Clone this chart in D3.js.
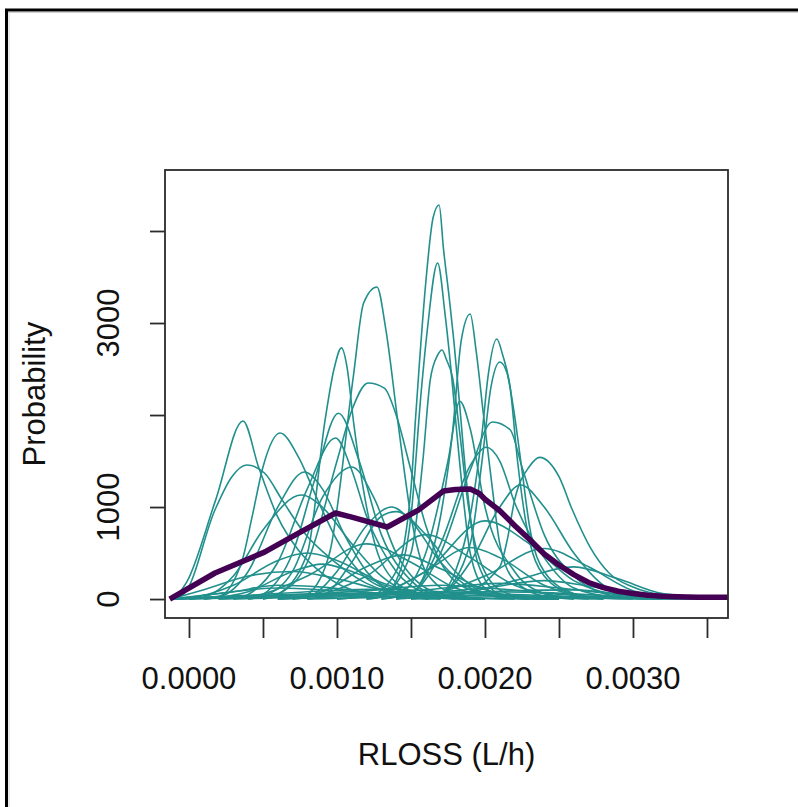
<!DOCTYPE html>
<html lang="en">
<head>
<meta charset="UTF-8">
<title>RLOSS densities</title>
<script src="https://d3js.org/d3.v7.min.js"></script>
<style>
  html, body { margin: 0; padding: 0; background: #fff; }
  svg { display: block; font-family: "Liberation Sans", Arial, sans-serif; }
  .tick line { stroke: #2b2b2b; stroke-width: 1.8; }
</style>
</head>
<body>
<div id="chart"></div>
<script>
// axis ticks (R skips labels that would overlap)
const xTicks = [0, 0.0005, 0.001, 0.0015, 0.002, 0.0025, 0.003, 0.0035];
const xLabelTicks = [0, 0.001, 0.002, 0.003];
const yTicks = [0, 1000, 2000, 3000, 4000];
const yLabelTicks = [0, 1000, 3000];

// individual density curves, [RLOSS, probability density]
const curveLeftSharp = [[-0.0001,0],[-0.00001,200],[0.00018,1075],[0.000365,1935],[0.00047,1435],[0.0006,890],[0.00074,530],[0.0009,280],[0.0011,100],[0.0014,20],[0.0017,0]];
const curveLeftBroad = [[-0.00012,0],[-0.00003,65],[0.000176,970],[0.00029,1330],[0.00039,1457],[0.00051,1370],[0.00063,1075],[0.00078,717],[0.00097,424],[0.0012,170],[0.0015,40],[0.0019,0]];
const curve0006 = [[-0.00012,0],[0.0002,30],[0.00036,424],[0.000426,890],[0.0005,1435],[0.000615,1804],[0.00074,1543],[0.00087,1075],[0.001,640],[0.00115,300],[0.0014,80],[0.0017,10],[0.002,0]];
const curve0010a = [[0.0005,0],[0.0006,50],[0.0008,500],[0.00092,1950],[0.00098,2500],[0.00103,2730],[0.00107,2500],[0.00111,1950],[0.0012,1000],[0.0013,400],[0.0015,80],[0.0017,10],[0.0019,0]];
const curve0013a = [[0.0007,0],[0.0008,50],[0.00095,500],[0.00111,2413],[0.00118,3217],[0.00127,3391],[0.00133,2930],[0.00141,1945],[0.0015,900],[0.0016,300],[0.0018,50],[0.002,0]];
const curve0013b = [[0.0005,0],[0.0006,50],[0.0008,400],[0.001,1500],[0.0011,2050],[0.00121,2348],[0.00132,2293],[0.0014,2000],[0.0015,1400],[0.0016,800],[0.0017,400],[0.0019,100],[0.0022,10],[0.0025,0]];
const curve0017a = [[0.0012,0],[0.0014,300],[0.0015,1200],[0.00153,1945],[0.00156,2630],[0.0016,3440],[0.00165,4150],[0.00169,4283],[0.00172,3800],[0.00176,3250],[0.00179,2800],[0.00182,2270],[0.00188,1200],[0.00195,400],[0.0021,50],[0.0023,0]];
const curve0017b = [[0.0012,0],[0.0013,20],[0.0014,200],[0.0015,900],[0.00157,2270],[0.00161,2920],[0.00168,3652],[0.00173,3100],[0.00177,2500],[0.00181,1800],[0.00186,1000],[0.0019,500],[0.002,120],[0.0022,10],[0.0024,0]];
const curve0017c = [[0.0012,0],[0.0013,30],[0.0015,500],[0.00158,1500],[0.00163,2380],[0.00168,2650],[0.00171,2706],[0.00174,2600],[0.00178,2413],[0.00183,1800],[0.00188,1100],[0.00195,500],[0.0021,100],[0.0023,10],[0.0025,0]];
const curve0019 = [[0.0014,0],[0.0015,50],[0.0016,300],[0.0017,900],[0.00178,1800],[0.00184,2815],[0.0019,3098],[0.00194,2700],[0.00199,2000],[0.00205,1200],[0.0021,600],[0.0022,200],[0.0024,30],[0.0026,0]];
const curve0021a = [[0.0016,0],[0.0017,50],[0.0018,300],[0.0019,900],[0.00198,1800],[0.00202,2413],[0.00208,2826],[0.00212,2650],[0.00217,2300],[0.00222,1500],[0.00228,800],[0.0024,250],[0.0026,50],[0.0028,0]];
const curve0021b = [[0.0016,0],[0.0017,50],[0.0019,600],[0.00198,1500],[0.00204,2300],[0.0021,2576],[0.00215,2450],[0.00219,2100],[0.00225,1400],[0.0023,800],[0.0024,300],[0.0026,60],[0.0028,0]];
const curve0024 = [[0.0016,0],[0.0018,30],[0.0021,350],[0.00215,640],[0.0022,1075],[0.0023,1440],[0.00237,1540],[0.0025,1330],[0.00259,970],[0.00271,565],[0.00284,280],[0.003,130],[0.0032,40],[0.0034,10],[0.0036,0]];
const curve0020a = [[0.0014,0],[0.0015,50],[0.0017,500],[0.0019,1400],[0.00205,1925],[0.00217,1840],[0.00225,1435],[0.0024,700],[0.0026,250],[0.0028,60],[0.003,10],[0.0032,0]];
const curve0020b = [[0.0013,0],[0.0015,60],[0.0017,600],[0.0019,1450],[0.00201,1650],[0.0021,1500],[0.0022,1050],[0.0024,450],[0.0026,120],[0.0029,15],[0.0031,0]];
const curve0022 = [[0.0015,0],[0.0017,50],[0.0019,400],[0.0021,1000],[0.00224,1240],[0.0024,1000],[0.0026,500],[0.0028,150],[0.003,30],[0.0032,0]];
const curve0018 = [[0.0013,0],[0.0014,30],[0.0016,500],[0.00175,1500],[0.00183,2150],[0.0019,1850],[0.002,1000],[0.0022,300],[0.0024,60],[0.0026,0]];
const curve0010b = [[0.0004,0],[0.0005,50],[0.0007,500],[0.00085,1300],[0.00101,2020],[0.00115,1500],[0.0013,700],[0.0015,200],[0.0017,30],[0.0019,0]];
const curve0010c = [[0.0003,0],[0.0004,50],[0.0006,400],[0.0008,1200],[0.00099,1750],[0.0011,1400],[0.0012,900],[0.0014,300],[0.0016,60],[0.0018,0]];
const curve0011 = [[0.0004,0],[0.0005,30],[0.0007,300],[0.0009,1100],[0.0011,1435],[0.00125,1100],[0.0014,500],[0.0016,120],[0.0018,20],[0.002,0]];
const curve0008a = [[0.0001,0],[0.0002,20],[0.0004,300],[0.0006,1000],[0.00078,1380],[0.0009,1200],[0.00105,700],[0.0012,300],[0.0014,60],[0.0016,0]];
const curve0008b = [[0,0],[0.0001,20],[0.0003,250],[0.0005,750],[0.00076,1130],[0.0009,1000],[0.0011,600],[0.0013,250],[0.0015,60],[0.0017,0]];
const curve0014a = [[0.0007,0],[0.0008,20],[0.001,300],[0.0012,800],[0.00137,1000],[0.0015,850],[0.0017,400],[0.0019,120],[0.0021,20],[0.0023,0]];
const curve0014b = [[0.0008,0],[0.0009,30],[0.0011,400],[0.0013,900],[0.0014,950],[0.0016,700],[0.0018,300],[0.002,60],[0.0022,0]];
const curveMid1 = [[-0.00012,0],[0,10],[0.0003,150],[0.0006,420],[0.0008,500],[0.001,420],[0.0013,180],[0.0016,40],[0.002,0]];
const curveMid2 = [[0.0002,0],[0.0004,20],[0.0008,250],[0.0012,600],[0.0015,400],[0.0018,120],[0.0021,20],[0.0023,0]];
const curveMid3 = [[0.0006,0],[0.0008,20],[0.0012,250],[0.0016,700],[0.0019,450],[0.0022,150],[0.0025,30],[0.0027,0]];
const curveMid4 = [[0.001,0],[0.0012,30],[0.0016,300],[0.002,850],[0.0023,600],[0.0026,200],[0.0029,40],[0.0031,0]];
const curveMid5 = [[0.0014,0],[0.0016,30],[0.002,250],[0.0024,550],[0.0027,350],[0.003,90],[0.0033,10],[0.0035,0]];
const curveMid6 = [[0.0015,0],[0.0018,40],[0.0022,200],[0.0026,350],[0.0029,220],[0.0032,60],[0.00364,5]];
const curveMid7 = [[0.0001,0],[0.0004,80],[0.0007,300],[0.0009,380],[0.0011,300],[0.0014,100],[0.0017,20],[0.002,0]];
const curveMid8 = [[0.0006,0],[0.0009,80],[0.0012,350],[0.00145,480],[0.0017,330],[0.002,100],[0.0023,10],[0.0025,0]];
const curveMid9 = [[0.001,0],[0.0013,60],[0.0016,300],[0.0019,560],[0.0021,450],[0.0024,150],[0.0027,20],[0.003,0]];
const curveLow1 = [[-0.00012,0],[0.0002,60],[0.0006,120],[0.001,90],[0.0015,40],[0.002,10],[0.0025,0]];
const curveLow2 = [[-0.00012,0],[0.0003,30],[0.0008,80],[0.0013,110],[0.0018,70],[0.0023,20],[0.0028,0]];
const curveLow3 = [[0,0],[0.0006,40],[0.0012,90],[0.0017,150],[0.0021,110],[0.0026,40],[0.0031,5],[0.0034,0]];
const curveLow4 = [[0.0003,0],[0.001,40],[0.0016,100],[0.0021,170],[0.0025,120],[0.0029,50],[0.0033,10],[0.00364,0]];
const curveLow5 = [[0.0006,0],[0.0014,50],[0.002,120],[0.0024,200],[0.0027,140],[0.003,60],[0.0033,15],[0.00364,5]];
const curveLow6 = [[-0.00012,0],[0.0001,100],[0.0004,250],[0.0007,300],[0.001,220],[0.0013,100],[0.0017,20],[0.002,0]];
const curveLow7 = [[-0.00012,0],[0.0005,40],[0.0011,60],[0.0017,50],[0.0023,25],[0.0029,5],[0.0033,0]];
const curveLow8 = [[-0.0001,0],[0.0002,20],[0.0009,50],[0.0015,70],[0.0021,55],[0.0027,20],[0.0032,0]];
const curveLow9 = [[0.0002,0],[0.0008,30],[0.0014,60],[0.0019,80],[0.0024,70],[0.0029,30],[0.0034,5],[0.00364,0]];
const curveLow10 = [[-0.00012,0],[0.0003,80],[0.0006,150],[0.0009,130],[0.0013,60],[0.0018,15],[0.0022,0]];
const curveLow11 = [[0.0008,0],[0.0015,30],[0.0022,90],[0.0026,100],[0.003,40],[0.0034,10],[0.00364,0]];
const curveLow12 = [[-0.00012,0],[0.0004,15],[0.001,35],[0.0016,30],[0.0022,35],[0.0028,20],[0.0034,5],[0.00364,0]];

const tealCurves = [
  curveLow1, curveLow2, curveLow3, curveLow4, curveLow5, curveLow6,
  curveLow7, curveLow8, curveLow9, curveLow10, curveLow11, curveLow12,
  curveMid1, curveMid2, curveMid3, curveMid4, curveMid5, curveMid6,
  curveMid7, curveMid8, curveMid9,
  curveLeftSharp, curveLeftBroad, curve0006, curve0008a, curve0008b,
  curve0010a, curve0010b, curve0010c, curve0011, curve0013a, curve0013b,
  curve0014a, curve0014b, curve0017a, curve0017b, curve0017c, curve0018,
  curve0019, curve0020a, curve0020b, curve0021a, curve0021b, curve0022, curve0024
];

// mean density
const meanCurve = [[-0.00013,0],[0.000176,283],[0.00051,510],[0.00074,717],[0.00099,935],[0.0011,890],[0.00134,783],[0.00155,967],[0.00172,1174],[0.0018,1190],[0.0019,1195],[0.00196,1150],[0.002,1085],[0.0021,960],[0.0022,800],[0.0023,650],[0.0024,490],[0.0025,370],[0.0026,265],[0.0027,180],[0.0028,125],[0.0029,85],[0.003,60],[0.0031,42],[0.0032,30],[0.0033,24],[0.00344,20],[0.00364,20]];

const W = 798, H = 807;
const box = {left: 165, right: 728, top: 170, bottom: 618};

const svg = d3.select("#chart").append("svg")
  .attr("width", W).attr("height", H);

svg.append("rect").attr("width", W).attr("height", H).attr("fill", "#fff");

// window frame
svg.append("line").attr("x1", 5).attr("x2", W).attr("y1", 10).attr("y2", 10)
  .attr("stroke", "#000").attr("stroke-width", 3);
svg.append("line").attr("x1", 6.5).attr("x2", 6.5).attr("y1", 9).attr("y2", H)
  .attr("stroke", "#000").attr("stroke-width", 3);
svg.append("line").attr("x1", 8).attr("x2", W).attr("y1", 12.5).attr("y2", 12.5)
  .attr("stroke", "#d0d0d0").attr("stroke-width", 1);
svg.append("line").attr("x1", 9).attr("x2", 9).attr("y1", 12).attr("y2", H)
  .attr("stroke", "#d8d8d8").attr("stroke-width", 1);

const x = d3.scaleLinear().domain([-0.000162, 0.003642]).range([box.left, box.right]);
const y = d3.scaleLinear().domain([-206, 4663]).range([box.bottom, box.top]);

const line = d3.line().x(d => x(d[0])).y(d => y(d[1])).curve(d3.curveMonotoneX);
const meanLine = d3.line().x(d => x(d[0])).y(d => y(d[1]));

const plot = svg.append("g");
plot.selectAll("path.teal")
  .data(tealCurves)
  .enter().append("path")
  .attr("class", "teal")
  .attr("d", line)
  .attr("fill", "none")
  .attr("stroke", "#21908C")
  .attr("stroke-width", 1.6);

plot.append("path")
  .datum(meanCurve)
  .attr("d", meanLine)
  .attr("fill", "none")
  .attr("stroke", "#440154")
  .attr("stroke-width", 5.5)
  .attr("stroke-linejoin", "round");

// plot box
svg.append("rect")
  .attr("x", box.left).attr("y", box.top)
  .attr("width", box.right - box.left).attr("height", box.bottom - box.top)
  .attr("fill", "none").attr("stroke", "#2b2b2b").attr("stroke-width", 1.8);

// axes: ticks only, labels drawn R-style
const xAxis = svg.append("g")
  .attr("transform", "translate(0," + box.bottom + ")")
  .call(d3.axisBottom(x).tickValues(xTicks).tickSize(20).tickFormat(""));
xAxis.select(".domain").remove();

const yAxis = svg.append("g")
  .attr("transform", "translate(" + box.left + ",0)")
  .call(d3.axisLeft(y).tickValues(yTicks).tickSize(15).tickFormat(""));
yAxis.select(".domain").remove();

svg.selectAll("text.xlab")
  .data(xLabelTicks)
  .enter().append("text")
  .attr("class", "xlab")
  .attr("x", d => x(d)).attr("y", 689)
  .attr("text-anchor", "middle")
  .attr("font-size", 31).attr("fill", "#111")
  .text(d => d3.format(".4f")(d));

svg.selectAll("text.ylab")
  .data(yLabelTicks)
  .enter().append("text")
  .attr("class", "ylab")
  .attr("transform", d => "translate(119," + y(d) + ") rotate(-90)")
  .attr("text-anchor", "middle")
  .attr("font-size", 31).attr("fill", "#111")
  .text(d => d);

svg.append("text")
  .attr("x", (box.left + box.right) / 2).attr("y", 765)
  .attr("text-anchor", "middle")
  .attr("font-size", 31).attr("fill", "#111")
  .text("RLOSS (L/h)");

svg.append("text")
  .attr("transform", "translate(45," + (box.top + box.bottom) / 2 + ") rotate(-90)")
  .attr("text-anchor", "middle")
  .attr("font-size", 31).attr("fill", "#111")
  .text("Probability");
</script>
</body>
</html>
